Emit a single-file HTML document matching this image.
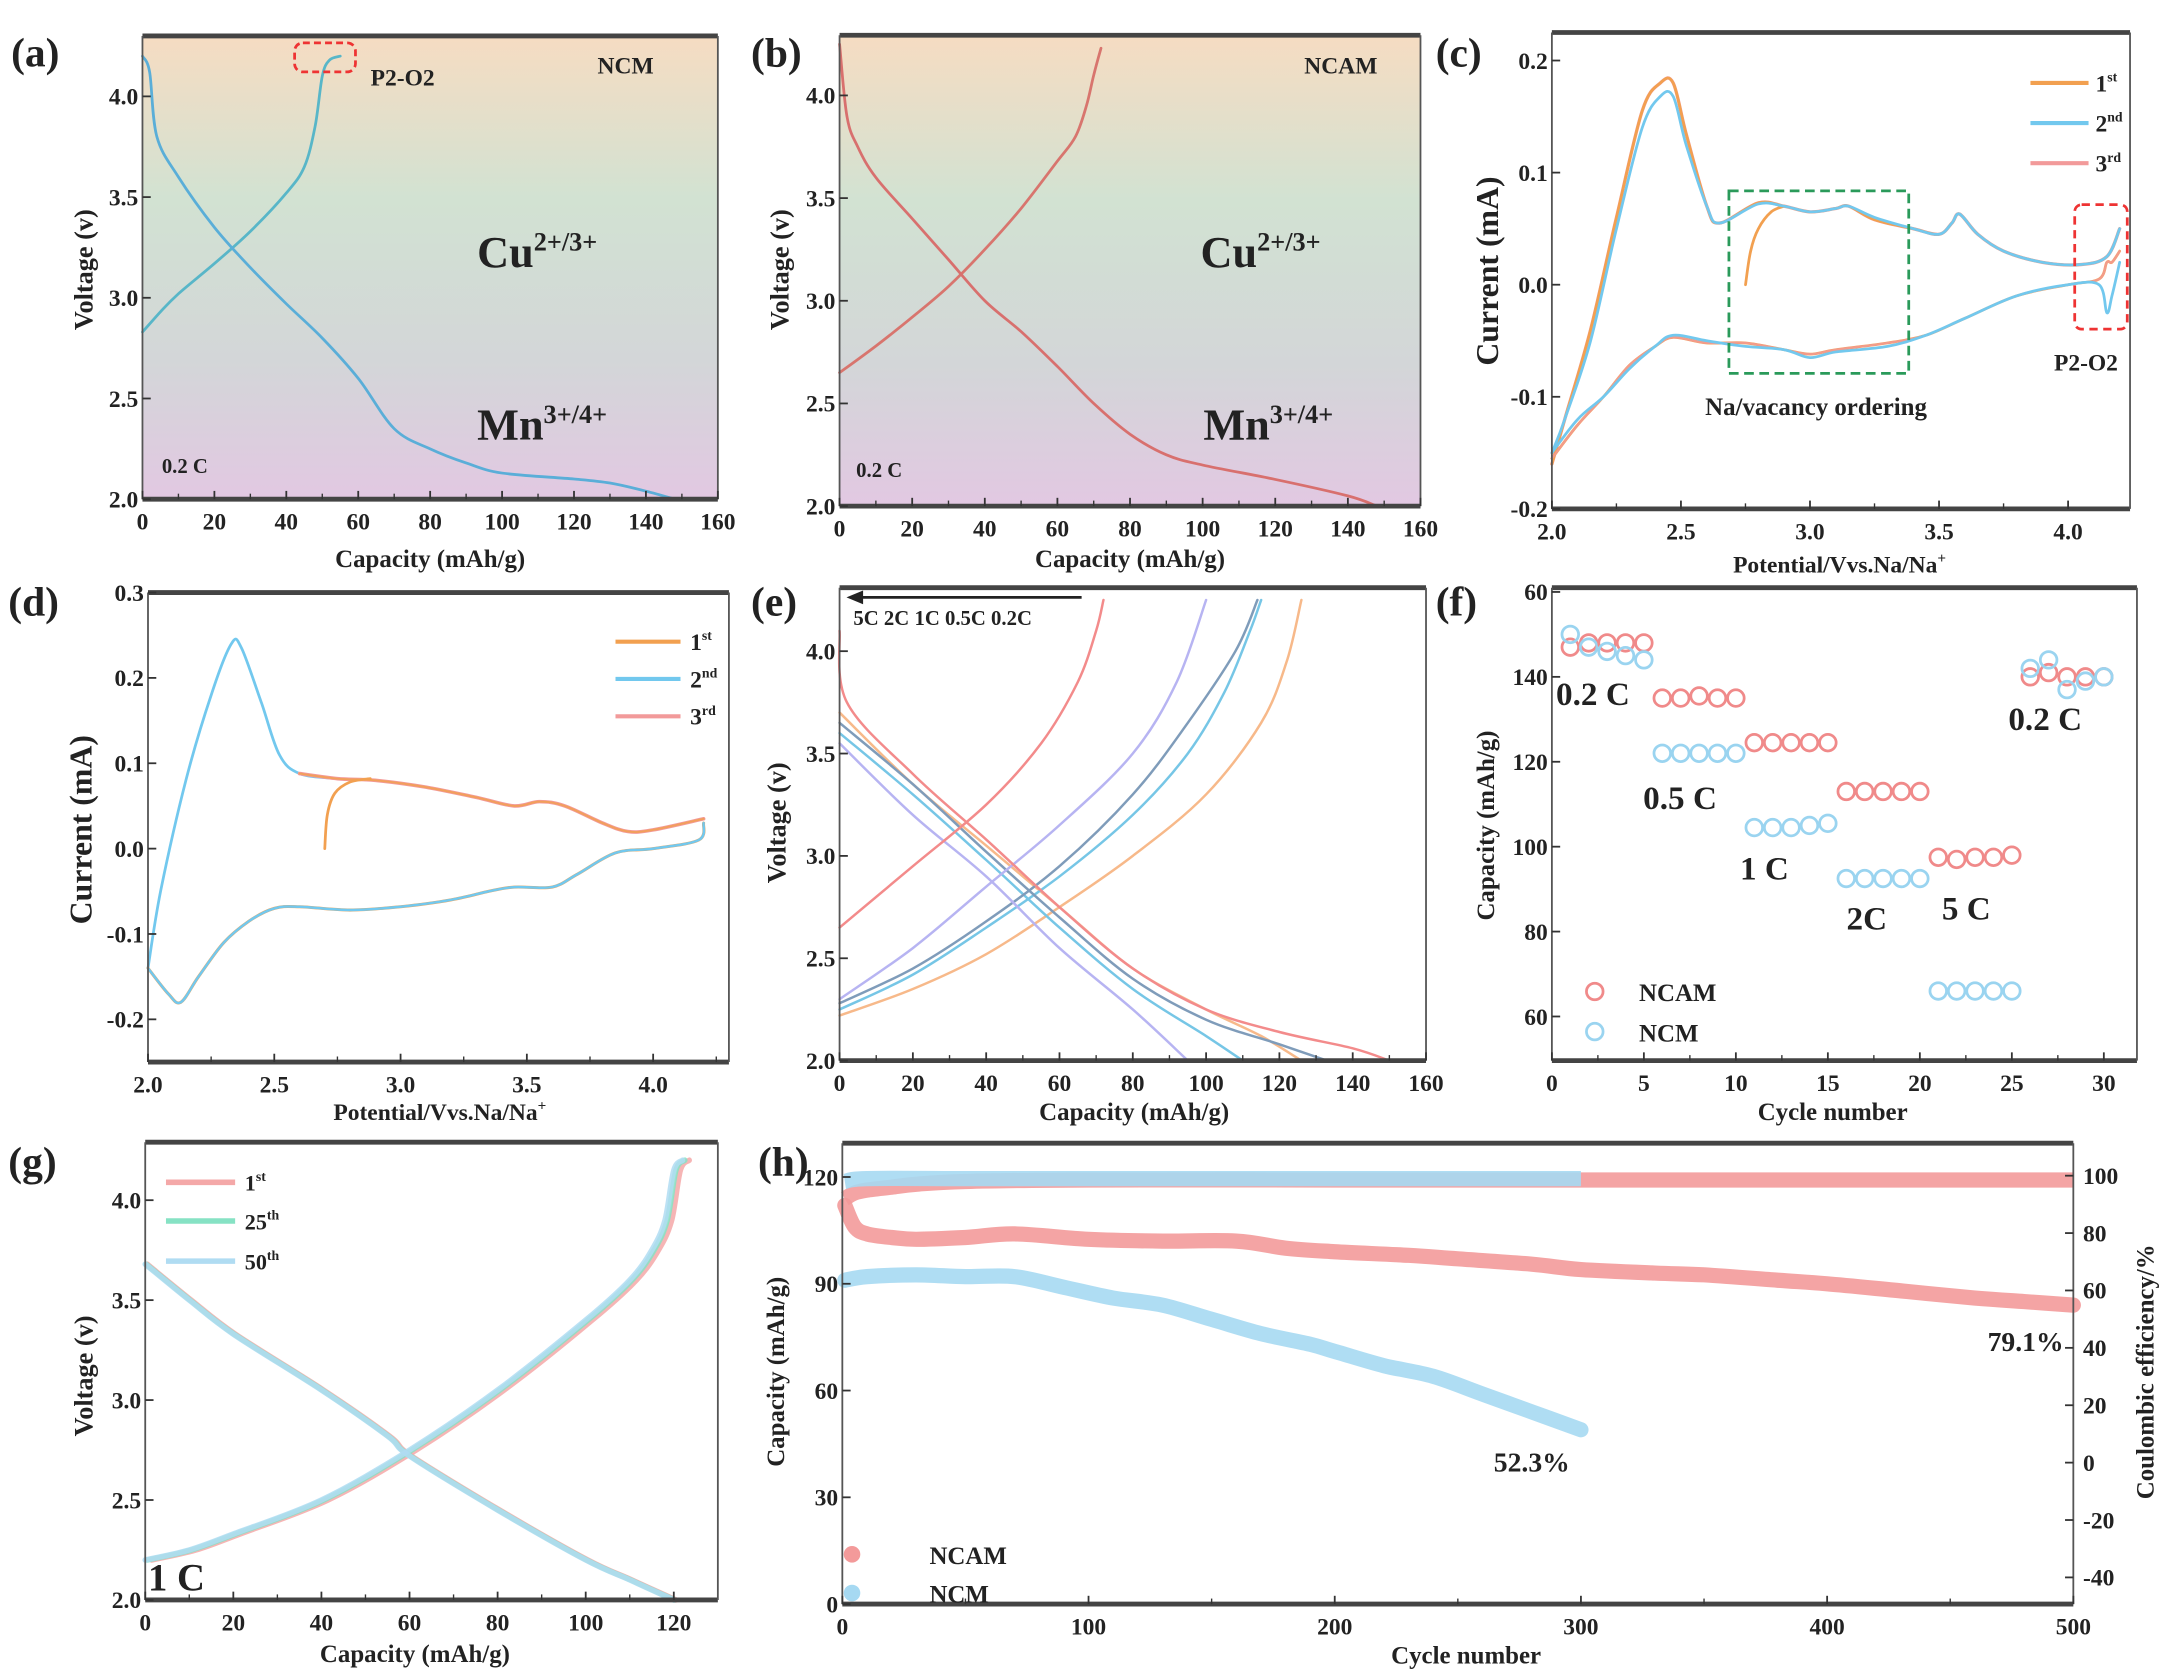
<!DOCTYPE html>
<html><head><meta charset="utf-8"><style>
html,body{margin:0;padding:0;background:#fff}
svg{display:block}
text{font-family:"Liberation Serif",serif;font-weight:bold;fill:#222}
</style></head><body>
<svg id="fig" xmlns="http://www.w3.org/2000/svg" width="2166" height="1676" viewBox="0 0 1566 1212" preserveAspectRatio="none">
<defs>
<linearGradient id="bgGrad" x1="0" y1="0" x2="0" y2="1">
<stop offset="0" stop-color="#f6dcc2"/><stop offset="0.35" stop-color="#d2e2d2"/><stop offset="0.7" stop-color="#d3d6d8"/><stop offset="1" stop-color="#e2c8e2"/>
</linearGradient>
</defs>
</svg>
<script>
// ---------- DATA ----------
// (a) NCM 0.2C
const aChgCap=[0,5,10,20,30,40,45,48,50,52,55];
const aChgV=[2.83,2.93,3.02,3.17,3.33,3.52,3.65,3.85,4.1,4.18,4.2];
const aDisCap=[0,2,4,10,20,30,40,50,60,70,80,90,100,120,130,140,148];
const aDisV=[4.2,4.12,3.8,3.6,3.35,3.15,2.97,2.8,2.6,2.35,2.25,2.18,2.13,2.1,2.08,2.04,2.0];
// (b) NCAM 0.2C
const bChgCap=[0,10,20,30,40,50,60,65,68,70,72];
const bChgV=[2.65,2.78,2.92,3.07,3.25,3.45,3.68,3.8,3.95,4.1,4.23];
const bDisCap=[0,2,5,10,20,30,40,50,60,70,80,90,100,120,140,148];
const bDisV=[4.25,3.9,3.75,3.6,3.4,3.2,3.0,2.85,2.68,2.5,2.35,2.25,2.2,2.13,2.05,2.0];
// (c) CV NCM
const cUpE=[2.0,2.05,2.15,2.25,2.35,2.42,2.47,2.52,2.6,2.65,2.8,2.9,3.0,3.1,3.15,3.25,3.4,3.5,3.55,3.58,3.65,3.75,3.9,4.05,4.15,4.2];
const cUpI2=[-0.15,-0.12,-0.05,0.05,0.14,0.168,0.168,0.125,0.07,0.055,0.072,0.07,0.065,0.068,0.07,0.06,0.05,0.045,0.055,0.063,0.045,0.03,0.02,0.018,0.025,0.05];
const cUpI1=[-0.16,-0.12,-0.04,0.06,0.155,0.18,0.18,0.135,0.07,0.055,0.073,0.07,0.065,0.068,0.07,0.058,0.05,0.045,0.055,0.063,0.045,0.03,0.02,0.018,0.025,0.05];
const c1stE=[2.75,2.77,2.8,2.85,2.9];
const c1stI=[0.0,0.03,0.05,0.065,0.07];
const cDnE=[4.2,4.17,4.15,4.12,4.0,3.8,3.6,3.45,3.3,3.1,3.0,2.9,2.75,2.6,2.47,2.4,2.3,2.2,2.1,2.0];
const cDnI2=[0.02,-0.01,-0.025,0.0,0.0,-0.01,-0.03,-0.045,-0.055,-0.06,-0.065,-0.058,-0.055,-0.05,-0.045,-0.055,-0.075,-0.1,-0.12,-0.15];
const cDnI1=[0.03,0.02,0.02,0.005,0.0,-0.01,-0.03,-0.045,-0.052,-0.058,-0.062,-0.058,-0.052,-0.052,-0.047,-0.055,-0.072,-0.1,-0.125,-0.155];
// (d) CV NCAM
const dUpE=[2.0,2.05,2.15,2.25,2.33,2.37,2.45,2.52,2.6,2.75,2.9,3.1,3.3,3.45,3.55,3.65,3.8,3.9,4.0,4.2];
const dUpI=[-0.14,-0.05,0.08,0.18,0.24,0.235,0.17,0.11,0.088,0.082,0.08,0.072,0.06,0.05,0.055,0.05,0.03,0.02,0.022,0.035];
const d1stE=[2.7,2.71,2.74,2.8,2.88];
const d1stI=[0.0,0.04,0.065,0.078,0.082];
const dDnE=[4.2,4.18,4.0,3.85,3.7,3.6,3.45,3.35,3.2,3.0,2.8,2.6,2.5,2.4,2.3,2.2,2.13,2.08,2.0];
const dDnI=[0.03,0.01,0.0,-0.005,-0.03,-0.045,-0.045,-0.05,-0.06,-0.068,-0.072,-0.068,-0.07,-0.085,-0.11,-0.15,-0.18,-0.17,-0.14];
// (e) rate curves
const eRates=["0.2C","0.5C","1C","2C","5C"];
const eColors=["#f7b98a","#76c6e6","#7f9cba","#b7b4f2","#f38b8b"];
const eChgCap=[[0,20,40,60,80,100,115,122,126],[0,20,40,60,80,95,105,112,115],[0,20,40,60,80,95,108,114],[0,20,40,60,80,92,100],[0,20,40,55,65,70,72]];
const eChgV=[[2.22,2.35,2.52,2.75,3.0,3.3,3.65,3.95,4.25],[2.25,2.42,2.65,2.9,3.2,3.5,3.8,4.1,4.25],[2.28,2.45,2.68,2.95,3.3,3.65,4.0,4.25],[2.3,2.55,2.85,3.15,3.5,3.85,4.25],[2.65,2.95,3.25,3.55,3.85,4.1,4.25]];
const eDisCap=[[0,20,40,60,80,100,115,126],[0,20,40,60,80,100,110],[0,20,40,60,80,100,120,133],[0,20,40,60,80,95],[0,2,20,40,60,80,100,120,140,150]];
const eDisV=[[3.7,3.35,3.05,2.75,2.45,2.25,2.12,2.0],[3.6,3.3,2.98,2.65,2.35,2.12,2.0],[3.65,3.35,3.02,2.7,2.4,2.2,2.08,2.0],[3.55,3.2,2.9,2.55,2.25,2.0],[4.1,3.75,3.4,3.08,2.75,2.45,2.25,2.14,2.06,2.0]];
// (f) rate capability
const fCycles=[1,2,3,4,5,6,7,8,9,10,11,12,13,14,15,16,17,18,19,20,21,22,23,24,25,26,27,28,29,30];
const fNCAM=[147,148,148,148,148,135,135,135.5,135,135,124.5,124.5,124.5,124.5,124.5,113,113,113,113,113,97.5,97,97.5,97.5,98,140,141,140,140,140];
const fNCM=[150,147,146,145,144,122,122,122,122,122,104.5,104.5,104.5,105,105.5,92.5,92.5,92.5,92.5,92.5,66,66,66,66,66,142,144,137,139,140];
// (g) 1C cycles
const gChgCap=[0,10,20,40,60,80,100,110,115,118,120,122];
const gChgV=[2.2,2.25,2.33,2.5,2.75,3.05,3.4,3.6,3.75,3.9,4.15,4.2];
const gDisCap=[0,10,20,40,55,60,80,100,110,120];
const gDisV=[3.68,3.5,3.33,3.05,2.82,2.72,2.45,2.2,2.1,2.0];
const gShift=[1.5,0.5,0];
// (h) long cycling
const hNCAMCyc=[1,5,10,20,30,50,70,100,130,160,180,200,230,250,280,300,330,350,380,400,430,460,480,500];
const hNCAMCap=[112,106,104,103,102.5,103,104,102.5,102,102,100,99,98,97,95.5,94,93,92.5,91,90,88,86,85,84];
const hNCMCyc=[1,10,30,50,70,90,110,130,150,170,190,200,220,240,260,280,300];
const hNCMCap=[91,92,92.5,92,92,89,86,84,80,76,73,71,67,64,59,54,49];
const hCEcyc=[1,5,10,20,30,50,100,200,300,400,500];
const hCENCAM=[92,94,95,96,97,98,98.5,98.5,98.5,98.5,98.5];
const hCENCMcyc=[1,10,50,100,200,300];
const hCENCM=[98,99,99,99,99,99];

// ---------- HELPERS ----------
const NS="http://www.w3.org/2000/svg";
const svg=document.getElementById('fig');
function mk(tag,parent,name,attrs){
  const e=document.createElementNS(NS,tag);
  for(const k in attrs)e.setAttribute(k,attrs[k]);
  
  
  parent.appendChild(e);return e;
}
function txt(parent,name,x,y,s,size,opts){
  opts=opts||{};
  const t=mk('text',parent,name,{x:x,y:y,'font-size':size,'text-anchor':opts.anchor||'start'});
  if(opts.rot)t.setAttribute('transform','rotate('+opts.rot+' '+x+' '+y+')');
  if(opts.html)t.innerHTML=s;else t.textContent=s;
  return t;
}
function axes(name,X0,X1,Y0,Y1,xd,yd,bg){
  const g=mk('g',svg,name,{});
  if(bg)mk('rect',g,name+'-background',{x:X0,y:Y0,width:X1-X0,height:Y1-Y0,fill:bg});
  const sx=v=>X0+(v-xd[0])/(xd[1]-xd[0])*(X1-X0);
  const sy=v=>Y1-(v-yd[0])/(yd[1]-yd[0])*(Y1-Y0);
  return {g,sx,sy,X0,X1,Y0,Y1};
}
function frame(A,name){
  mk('line',A.g,name+'-top-border',{x1:A.X0,y1:A.Y0,x2:A.X1,y2:A.Y0,stroke:'#444','stroke-width':3.5});
  mk('line',A.g,name+'-bottom-border',{x1:A.X0,y1:A.Y1,x2:A.X1,y2:A.Y1,stroke:'#444','stroke-width':3.5});
  mk('line',A.g,name+'-left-border',{x1:A.X0,y1:A.Y0,x2:A.X0,y2:A.Y1,stroke:'#555','stroke-width':1.3});
  mk('line',A.g,name+'-right-border',{x1:A.X1,y1:A.Y0,x2:A.X1,y2:A.Y1,stroke:'#555','stroke-width':1.3});
}
function xTicks(A,name,vals,labels,minor){
  vals.forEach((v,i)=>{const x=A.sx(v);
    mk('line',A.g,name+'-x-tick',{x1:x,y1:A.Y1,x2:x,y2:A.Y1-6,stroke:'#333','stroke-width':1.3});
    txt(A.g,name+'-x-tick-label',x,A.Y1+22,labels[i],17,{anchor:'middle'});
  });
  (minor||[]).forEach(v=>{const x=A.sx(v);
    mk('line',A.g,name+'-x-minor-tick',{x1:x,y1:A.Y1,x2:x,y2:A.Y1-4,stroke:'#333','stroke-width':1});});
}
function yTicks(A,name,vals,labels){
  vals.forEach((v,i)=>{const y=A.sy(v);
    mk('line',A.g,name+'-y-tick',{x1:A.X0,y1:y,x2:A.X0+6,y2:y,stroke:'#333','stroke-width':1.3});
    txt(A.g,name+'-y-tick-label',A.X0-3,y+6,labels[i],17,{anchor:'end'});
  });
}
function smoothPath(P){
  let d='M'+P[0][0].toFixed(1)+','+P[0][1].toFixed(1);
  for(let i=0;i<P.length-1;i++){
    const p0=P[i-1]||P[i],p1=P[i],p2=P[i+1],p3=P[i+2]||P[i+1];
    const c1=[p1[0]+(p2[0]-p0[0])/6,p1[1]+(p2[1]-p0[1])/6];
    const c2=[p2[0]-(p3[0]-p1[0])/6,p2[1]-(p3[1]-p1[1])/6];
    d+=' C'+c1[0].toFixed(1)+','+c1[1].toFixed(1)+' '+c2[0].toFixed(1)+','+c2[1].toFixed(1)+' '+p2[0].toFixed(1)+','+p2[1].toFixed(1);
  }
  return d;
}
function line(A,name,xs,ys,color,w,op){
  const P=xs.map((x,i)=>[A.sx(x),A.sy(ys[i])]);
  return mk('path',A.g,name,{d:smoothPath(P),fill:'none',stroke:color,'stroke-width':w||1.8,'stroke-linejoin':'round','stroke-linecap':'round',opacity:op==null?1:op});
}
function panelLabel(s,x,y){txt(svg,'panel-label-'+s,x,y,'('+s+')',30,{});}

// ---------- (a) ----------
let A=axes('panel-a-chart',103,519,26,361,[0,160],[2.0,4.3],'url(#bgGrad)');
line(A,'ncm-charge-curve',aChgCap,aChgV,'#58b6c8',2);
line(A,'ncm-discharge-curve',aDisCap,aDisV,'#5aaed8',2);
frame(A,'panel-a');
xTicks(A,'panel-a',[0,20,40,60,80,100,120,140,160],['0','20','40','60','80','100','120','140','160'],[10,30,50,70,90,110,130,150]);
yTicks(A,'panel-a',[2.0,2.5,3.0,3.5,4.0],['2.0','2.5','3.0','3.5','4.0']);
mk('rect',A.g,'p2-o2-highlight-box',{x:213,y:31,width:44,height:21,rx:6,fill:'none',stroke:'#e33','stroke-width':2,'stroke-dasharray':'5,3'});
txt(A.g,'p2-o2-label',268,62,'P2-O2',17);
txt(A.g,'ncm-label',432,53,'NCM',17);
txt(A.g,'cu-redox-label',345,193,'Cu<tspan dy="-12" font-size="19">2+/3+</tspan>',32,{html:true});
txt(A.g,'mn-redox-label',345,318,'Mn<tspan dy="-12" font-size="19">3+/4+</tspan>',32,{html:true});
txt(A.g,'rate-label',117,342,'0.2 C',15);
txt(A.g,'x-axis-title',311,410,'Capacity (mAh/g)',18,{anchor:'middle'});
txt(A.g,'y-axis-title',67,195,'Voltage (v)',19,{anchor:'middle',rot:-90});
panelLabel('a',8,48);

// ---------- (b) ----------
A=axes('panel-b-chart',607,1027,25.5,366,[0,160],[2.0,4.293],'url(#bgGrad)');
line(A,'ncam-charge-curve',bChgCap,bChgV,'#d8756e',2);
line(A,'ncam-discharge-curve',bDisCap,bDisV,'#d8706e',2);
frame(A,'panel-b');
xTicks(A,'panel-b',[0,20,40,60,80,100,120,140,160],['0','20','40','60','80','100','120','140','160'],[10,30,50,70,90,110,130,150]);
yTicks(A,'panel-b',[2.0,2.5,3.0,3.5,4.0],['2.0','2.5','3.0','3.5','4.0']);
txt(A.g,'ncam-label',943,53,'NCAM',17);
txt(A.g,'cu-redox-label',868,193,'Cu<tspan dy="-12" font-size="19">2+/3+</tspan>',32,{html:true});
txt(A.g,'mn-redox-label',870,318,'Mn<tspan dy="-12" font-size="19">3+/4+</tspan>',32,{html:true});
txt(A.g,'rate-label',619,345,'0.2 C',15);
txt(A.g,'x-axis-title',817,410,'Capacity (mAh/g)',18,{anchor:'middle'});
txt(A.g,'y-axis-title',570,195,'Voltage (v)',19,{anchor:'middle',rot:-90});
panelLabel('b',543,48);

// ---------- (c) ----------
A=axes('panel-c-chart',1122,1540,23.5,368,[2.0,4.24],[-0.2,0.225]);
line(A,'cv-3rd-upper',cUpE,cUpI1,'#f29a9a',2.4);
line(A,'cv-1st-upper',cUpE,cUpI1,'#f2a050',2);
line(A,'cv-1st-start',c1stE,c1stI,'#f2a050',2);
line(A,'cv-2nd-upper',cUpE,cUpI2,'#72c8ee',2);
line(A,'cv-1st-lower',cDnE,cDnI1,'#f2a050',2);
line(A,'cv-3rd-lower',cDnE,cDnI1,'#f29a9a',1.6,0.8);
line(A,'cv-2nd-lower',cDnE,cDnI2,'#72c8ee',2);
frame(A,'panel-c');
xTicks(A,'panel-c',[2.0,2.5,3.0,3.5,4.0],['2.0','2.5','3.0','3.5','4.0'],[2.25,2.75,3.25,3.75]);
yTicks(A,'panel-c',[-0.2,-0.1,0.0,0.1,0.2],['-0.2','-0.1','0.0','0.1','0.2']);
[['#f2a050','1<tspan dy="-7" font-size="10">st</tspan>',60],['#72c8ee','2<tspan dy="-7" font-size="10">nd</tspan>',89],['#f29a9a','3<tspan dy="-7" font-size="10">rd</tspan>',118]].forEach(l=>{
  mk('line',A.g,'legend-entry-line',{x1:1468,y1:l[2],x2:1510,y2:l[2],stroke:l[0],'stroke-width':3});
  txt(A.g,'legend-entry-label',1515,l[2]+6,l[1],17,{html:true});
});
mk('rect',A.g,'na-vacancy-box',{x:1250,y:138,width:130,height:132,fill:'none',stroke:'#2a9a5a','stroke-width':2,'stroke-dasharray':'7,4'});
mk('rect',A.g,'p2-o2-box',{x:1500,y:148,width:38,height:90,rx:5,fill:'none',stroke:'#e33','stroke-width':2,'stroke-dasharray':'6,4'});
txt(A.g,'p2-o2-label',1485,268,'P2-O2',17);
txt(A.g,'na-vacancy-label',1313,300,'Na/vacancy ordering',18,{anchor:'middle'});
txt(A.g,'x-axis-title',1330,414,'Potential/Vvs.Na/Na<tspan dy="-7" font-size="11">+</tspan>',17,{anchor:'middle',html:true});
txt(A.g,'y-axis-title',1083,196,'Current (mA)',23,{anchor:'middle',rot:-90});
panelLabel('c',1038,48);

// ---------- (d) ----------
A=axes('panel-d-chart',107,527,428.5,768,[2.0,4.3],[-0.25,0.3]);
line(A,'cv-2nd-upper',dUpE,dUpI,'#72c8ee',2);
line(A,'cv-3rd-upper',dUpE.slice(8),dUpI.slice(8),'#f29a9a',2.6);
line(A,'cv-1st-upper',dUpE.slice(8),dUpI.slice(8),'#f2a050',1.4,0.85);
line(A,'cv-1st-start',d1stE,d1stI,'#f2a050',2);
line(A,'cv-1st-lower',dDnE,dDnI,'#f2a050',2.2);
line(A,'cv-2nd-lower',dDnE,dDnI,'#72c8ee',1.8);
frame(A,'panel-d');
xTicks(A,'panel-d',[2.0,2.5,3.0,3.5,4.0],['2.0','2.5','3.0','3.5','4.0'],[2.25,2.75,3.25,3.75,4.25]);
yTicks(A,'panel-d',[-0.2,-0.1,0.0,0.1,0.2,0.3],['-0.2','-0.1','0.0','0.1','0.2','0.3']);
[['#f2a050','1<tspan dy="-7" font-size="10">st</tspan>',464],['#72c8ee','2<tspan dy="-7" font-size="10">nd</tspan>',491],['#f29a9a','3<tspan dy="-7" font-size="10">rd</tspan>',518]].forEach(l=>{
  mk('line',A.g,'legend-entry-line',{x1:445,y1:l[2],x2:492,y2:l[2],stroke:l[0],'stroke-width':3});
  txt(A.g,'legend-entry-label',499,l[2]+6,l[1],17,{html:true});
});
txt(A.g,'x-axis-title',318,810,'Potential/Vvs.Na/Na<tspan dy="-7" font-size="11">+</tspan>',17,{anchor:'middle',html:true});
txt(A.g,'y-axis-title',66,600,'Current (mA)',23,{anchor:'middle',rot:-90});
panelLabel('d',6,445);

// ---------- (e) ----------
A=axes('panel-e-chart',607,1031,425,767,[0,160],[2.0,4.31]);
eRates.forEach((r,i)=>{
  line(A,'charge-curve-'+r,eChgCap[i],eChgV[i],eColors[i],1.8);
  line(A,'discharge-curve-'+r,eDisCap[i],eDisV[i],eColors[i],1.8);
});
frame(A,'panel-e');
xTicks(A,'panel-e',[0,20,40,60,80,100,120,140,160],['0','20','40','60','80','100','120','140','160'],[10,30,50,70,90,110,130,150]);
yTicks(A,'panel-e',[2.0,2.5,3.0,3.5,4.0],['2.0','2.5','3.0','3.5','4.0']);
mk('line',A.g,'rate-arrow-line',{x1:620,y1:432,x2:782,y2:432,stroke:'#222','stroke-width':2});
mk('polygon',A.g,'rate-arrow-head',{points:'612,432 624,427 624,437',fill:'#222'});
txt(A.g,'rate-order-label',617,452,'5C 2C 1C 0.5C 0.2C',15);
txt(A.g,'x-axis-title',820,810,'Capacity (mAh/g)',18,{anchor:'middle'});
txt(A.g,'y-axis-title',568,595,'Voltage (v)',19,{anchor:'middle',rot:-90});
panelLabel('e',543,445);

// ---------- (f) ----------
A=axes('panel-f-chart',1122,1545,425,767,[0,31.8],[49.6,161]);
fCycles.forEach((c,i)=>{
  mk('circle',A.g,'ncam-rate-point',{cx:A.sx(c),cy:A.sy(fNCAM[i]),r:6,fill:'none',stroke:'#f08a8a','stroke-width':2});
  mk('circle',A.g,'ncm-rate-point',{cx:A.sx(c),cy:A.sy(fNCM[i]),r:6,fill:'none',stroke:'#9ad4f0','stroke-width':2});
});
frame(A,'panel-f');
xTicks(A,'panel-f',[0,5,10,15,20,25,30],['0','5','10','15','20','25','30'],[2.5,7.5,12.5,17.5,22.5,27.5]);
yTicks(A,'panel-f',[60,80,100,120,140,160],['60','80','100','120','140','60']);
[['0.2 C',1125,510],['0.5 C',1188,585],['1 C',1258,636],['2C',1335,672],['5 C',1404,665],['0.2 C',1452,528]].forEach(l=>txt(A.g,'rate-annotation',l[1],l[2],l[0],24));
mk('circle',A.g,'legend-ncam-marker',{cx:1153,cy:717,r:6,fill:'none',stroke:'#f08a8a','stroke-width':2});
txt(A.g,'legend-ncam-label',1185,724,'NCAM',18);
mk('circle',A.g,'legend-ncm-marker',{cx:1153,cy:746,r:6,fill:'none',stroke:'#9ad4f0','stroke-width':2});
txt(A.g,'legend-ncm-label',1185,753,'NCM',18);
txt(A.g,'x-axis-title',1325,810,'Cycle number',18,{anchor:'middle'});
txt(A.g,'y-axis-title',1080,597,'Capacity (mAh/g)',18,{anchor:'middle',rot:-90});
panelLabel('f',1038,445);

// ---------- (g) ----------
A=axes('panel-g-chart',105,519,826,1157,[0,130],[2.0,4.29]);
const gColors=['#f4a8a8','#86e2c4','#b0dcf2'];
const gNames=['1st','25th','50th'];
gShift.forEach((s,i)=>{
  line(A,'charge-curve-'+gNames[i],gChgCap.map(c=>c+s),gChgV,gColors[i],4,0.85);
  line(A,'discharge-curve-'+gNames[i],gDisCap.map(c=>c+s*0.3),gDisV,gColors[i],4,0.85);
});
frame(A,'panel-g');
xTicks(A,'panel-g',[0,20,40,60,80,100,120],['0','20','40','60','80','100','120'],[10,30,50,70,90,110]);
yTicks(A,'panel-g',[2.0,2.5,3.0,3.5,4.0],['2.0','2.5','3.0','3.5','4.0']);
[['1<tspan dy="-7" font-size="10">st</tspan>',855,gColors[0]],['25<tspan dy="-7" font-size="10">th</tspan>',883,gColors[1]],['50<tspan dy="-7" font-size="10">th</tspan>',912,gColors[2]]].forEach(l=>{
  mk('line',A.g,'legend-entry-line',{x1:120,y1:l[1],x2:170,y2:l[1],stroke:l[2],'stroke-width':4});
  txt(A.g,'legend-entry-label',177,l[1]+6,l[0],16,{html:true});
});
txt(A.g,'rate-label',107,1150,'1 C',28);
txt(A.g,'x-axis-title',300,1202,'Capacity (mAh/g)',18,{anchor:'middle'});
txt(A.g,'y-axis-title',67,995,'Voltage (v)',19,{anchor:'middle',rot:-90});
panelLabel('g',6,850);

// ---------- (h) ----------
A=axes('panel-h-chart',609,1499,826.7,1160,[0,500],[0,129.5]);
const syR=v=>1057.7-(v)/20*41.5;
function ceLine(cyc,vals,color,name){
  const P=cyc.map((c,i)=>[A.sx(c),syR(vals[i])]);
  mk('path',A.g,name,{d:smoothPath(P),fill:'none',stroke:color,'stroke-width':11,'stroke-linejoin':'round',opacity:0.9});
}
ceLine(hCEcyc,hCENCAM,'#f39a9a','ncam-coulombic-efficiency');
ceLine(hCENCMcyc,hCENCM,'#a6d9f2','ncm-coulombic-efficiency');
line(A,'ncam-capacity-band',hNCAMCyc,hNCAMCap,'#f39a9a',11,0.9);
line(A,'ncm-capacity-band',hNCMCyc,hNCMCap,'#a6d9f2',11,0.9);
frame(A,'panel-h');
xTicks(A,'panel-h',[0,100,200,300,400,500],['0','100','200','300','400','500'],[50,150,250,350,450]);
yTicks(A,'panel-h',[0,30,60,90,120],['0','30','60','90','120']);
[-40,-20,0,20,40,60,80,100].forEach(v=>{
  mk('line',A.g,'panel-h-y2-tick',{x1:1499,y1:syR(v),x2:1493,y2:syR(v),stroke:'#333','stroke-width':1.3});
  txt(A.g,'panel-h-y2-tick-label',1506,syR(v)+6,String(v),17);
});
txt(A.g,'ncam-retention-label',1492,977,'79.1%',20,{anchor:'end'});
txt(A.g,'ncm-retention-label',1080,1064,'52.3%',20);
mk('circle',A.g,'legend-ncam-marker',{cx:616,cy:1124,r:6,fill:'#f39a9a'});
txt(A.g,'legend-ncam-label',672,1131,'NCAM',18);
mk('circle',A.g,'legend-ncm-marker',{cx:616,cy:1152,r:6,fill:'#a6d9f2'});
txt(A.g,'legend-ncm-label',672,1159,'NCM',18);
txt(A.g,'x-axis-title',1060,1203,'Cycle number',18,{anchor:'middle'});
txt(A.g,'y-axis-title',567,992,'Capacity (mAh/g)',18,{anchor:'middle',rot:-90});
txt(A.g,'y2-axis-title',1557,992,'Coulombic efficiency/%',18,{anchor:'middle',rot:-90});
panelLabel('h',548,850);
</script>
</body></html>
